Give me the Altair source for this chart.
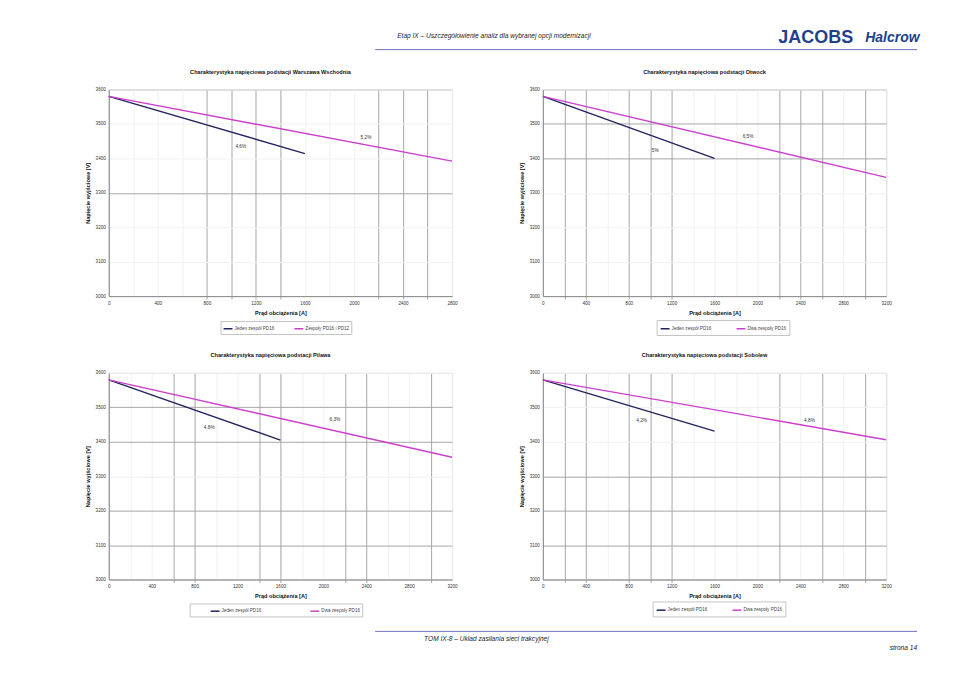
import json
import altair as alt
import pandas as pd

# ---------------- data ----------------
TITLES = [
    "Charakterystyka napięciowa podstacji Warszawa Wschodnia",
    "Charakterystyka napięciowa podstacji Otwock",
    "Charakterystyka napięciowa podstacji Pilawa",
    "Charakterystyka napięciowa podstacji Sobolew",
]
X_TITLE = "Prąd obciążenia [A]"
Y_TITLE = "Napięcie wyjściowe [V]"
X_MAX = [2800, 3200, 3200, 3200]
Y_DOMAIN = [3000, 3600]

SERIES_ONE = ["Jeden zespół PD16", "Jeden zespół PD16", "Jeden zespół PD16", "Jeden zespół PD16"]
SERIES_TWO = ["Zespoły PD16 i PD12", "Dwa zespoły PD16", "Dwa zespoły PD16", "Dwa zespoły PD16"]

START_CURRENT = [0, 0, 0, 0]
START_VOLTAGE = [3580, 3580, 3580, 3580]
ONE_END_CURRENT = [1600, 1600, 1600, 1600]
ONE_END_VOLTAGE = [3414, 3400, 3405, 3431]
TWO_END_CURRENT = [2800, 3200, 3200, 3200]
TWO_END_VOLTAGE = [3392, 3345, 3355, 3406]

ONE_LABEL = ["4,6%", "5%", "4,8%", "4,2%"]
ONE_LABEL_CURRENT = [1077, 1047, 937, 921]
ONE_LABEL_VOLTAGE = [3433, 3420, 3440, 3460]
TWO_LABEL = ["5,2%", "6,5%", "6,3%", "4,8%"]
TWO_LABEL_CURRENT = [2098, 1913, 2108, 2486]
TWO_LABEL_VOLTAGE = [3460, 3461, 3463, 3460]

# gridlines that print darker in the scanned page
GRID_X_MARKED = [
    [800, 1000, 1200, 1400, 2200, 2400, 2600],
    [200, 400, 800, 1000, 1200, 2200, 2400, 2600, 3000],
    [600, 800, 1400, 1600, 2200, 2400, 3000],
    [200, 400, 800, 1000, 1200, 2200, 2600, 3000],
]
GRID_Y_MARKED = [
    [3300],
    [3500, 3400],
    [3500, 3400, 3200, 3100],
    [3300, 3200, 3100],
]

HEADER_TEXT = "Etap IX – Uszczegółowienie analiz dla wybranej opcji modernizacji"
LOGO_ONE = "JACOBS"
LOGO_TWO = "Halcrow"
FOOTER_TEXT = "TOM IX-8 – Układ zasilania sieci trakcyjnej"
PAGE_TEXT = "strona 14"

# ---------------- styling ----------------
FONT = "Liberation Sans"
NAVY = "#23235f"
MAGENTA = "#cc3fcc"
DARK_GRID = "#a6a6a6"
FAINT_GRID = "#f0f0f0"
BORDER = "#a0a0a0"
LOGO_BLUE = "#1f3f8f"
RULE_BLUE = "#7070c0"

PANEL_W = 344
PANEL_H = 207

# legendX, legendY, padding, columnPadding, symbolOffset
LEGEND_POS = [(112, 232, 2, 17, 0), (114, 231, 3, 22, 0), (81, 231, 2, 30, 18), (110, 229, 3, 22, 0)]


def one_row():
    return alt.Data(values=[{}])


def deco_text(text, x, y, **kw):
    return alt.Chart(one_row()).mark_text(text=text, font=FONT, **kw).encode(
        x=alt.value(x), y=alt.value(y)
    )


def deco_rule(x, x2, y, color):
    return alt.Chart(one_row()).mark_rule(color=color, strokeWidth=1).encode(
        x=alt.value(x), x2=alt.value(x2), y=alt.value(y)
    )


def panel(i):
    lines = pd.DataFrame({
        "series": [SERIES_ONE[i], SERIES_ONE[i], SERIES_TWO[i], SERIES_TWO[i]],
        "current": [START_CURRENT[i], ONE_END_CURRENT[i], START_CURRENT[i], TWO_END_CURRENT[i]],
        "voltage": [START_VOLTAGE[i], ONE_END_VOLTAGE[i], START_VOLTAGE[i], TWO_END_VOLTAGE[i]],
    })
    labels = pd.DataFrame({
        "label": [ONE_LABEL[i], TWO_LABEL[i]],
        "current": [ONE_LABEL_CURRENT[i], TWO_LABEL_CURRENT[i]],
        "voltage": [ONE_LABEL_VOLTAGE[i], TWO_LABEL_VOLTAGE[i]],
    })
    x_test = "indexof(%s, datum.value) >= 0" % json.dumps(GRID_X_MARKED[i])
    y_test = "indexof(%s, datum.value) >= 0" % json.dumps(GRID_Y_MARKED[i])

    x_scale = alt.Scale(domain=[0, X_MAX[i]], nice=False)
    y_scale = alt.Scale(domain=Y_DOMAIN, nice=False, zero=False)

    x_axis = alt.Axis(
        values=list(range(0, X_MAX[i] + 1, 200)),
        format="d",
        labelExpr="datum.value % 400 === 0 ? datum.label : ''",
        labelOverlap=False,
        labelFlush=False,
        labelFont=FONT,
        labelFontSize=4.6,
        labelColor="#333333",
        labelPadding=1.5,
        tickSize=3,
        tickColor={"condition": {"test": x_test, "value": DARK_GRID}, "value": "transparent"},
        gridColor={"condition": {"test": x_test, "value": DARK_GRID}, "value": FAINT_GRID},
        domainColor="#8a8a8a",
        title=X_TITLE,
        titleFont=FONT,
        titleFontSize=5.6,
        titleFontWeight="bold",
        titleColor="#111111",
        titleY=16,
        titleBaseline="middle",
    )
    y_axis = alt.Axis(
        values=list(range(Y_DOMAIN[0], Y_DOMAIN[1] + 1, 100)),
        format="d",
        ticks=False,
        labelOverlap=False,
        labelFlush=False,
        labelFont=FONT,
        labelFontSize=4.6,
        labelColor="#333333",
        labelPadding=3.5,
        gridColor={"condition": {"test": y_test, "value": DARK_GRID}, "value": FAINT_GRID},
        domainColor="#8a8a8a",
        title=Y_TITLE,
        titleFont=FONT,
        titleFontSize=5.6,
        titleFontWeight="bold",
        titleColor="#111111",
        titleX=-21,
        titleY=PANEL_H / 2,
        titleBaseline="middle",
    )
    lx, ly, lpad, lcol, loff = LEGEND_POS[i]
    legend_kw = dict(
        orient="none",
        legendX=lx,
        legendY=ly,
        direction="horizontal",
        title=None,
        symbolType="stroke",
        symbolSize=80,
        symbolStrokeWidth=1.5,
        labelFont=FONT,
        labelFontSize=4.6,
        labelColor="#444444",
        labelOffset=1,
        padding=lpad,
        columnPadding=lcol,
        strokeColor="#c4c4c4",
        fillColor="white",
    )
    if loff:
        legend_kw["symbolOffset"] = loff
    legend = alt.Legend(**legend_kw)

    line_layer = alt.Chart(lines).mark_line(strokeWidth=1.4).encode(
        x=alt.X("current:Q", scale=x_scale, axis=x_axis),
        y=alt.Y("voltage:Q", scale=y_scale, axis=y_axis),
        color=alt.Color(
            "series:N",
            scale=alt.Scale(domain=[SERIES_ONE[i], SERIES_TWO[i]], range=[NAVY, MAGENTA]),
            legend=legend,
        ),
        detail="series:N",
    )
    text_layer = alt.Chart(labels).mark_text(font=FONT, fontSize=4.8, color="#333333").encode(
        x=alt.X("current:Q", scale=x_scale, axis=x_axis),
        y=alt.Y("voltage:Q", scale=y_scale, axis=y_axis),
        text="label:N",
    )
    title_layer = deco_text(TITLES[i], 162, -18, align="center", baseline="middle",
                            fontSize=5.6, fontWeight="bold", color="#111111")
    layers = [line_layer, text_layer, title_layer]
    if i == 0:
        # page decorations (header / footer), placed relative to the first panel
        layers += [
            alt.Chart(one_row()).mark_rect(fill="transparent", stroke="transparent").encode(
                x=alt.value(-100), x2=alt.value(844), y=alt.value(-80), y2=alt.value(583)
            ),
            deco_text(HEADER_TEXT, 289, -54, align="left", baseline="middle", fontSize=6.6,
                      fontStyle="italic", color="#222222"),
            deco_text(LOGO_ONE, 671, -52, align="left", baseline="middle", fontSize=18,
                      fontWeight="bold", color=LOGO_BLUE),
            deco_text(LOGO_TWO, 758, -52, align="left", baseline="middle", fontSize=14,
                      fontWeight="bold", fontStyle="italic", color=LOGO_BLUE),
            deco_rule(267, 810, -40, RULE_BLUE),
            deco_rule(267, 810, 543, RULE_BLUE),
            deco_text(FOOTER_TEXT, 316, 551, align="left", baseline="middle", fontSize=6.6,
                      fontStyle="italic", color="#222222"),
            deco_text(PAGE_TEXT, 810, 560, align="right", baseline="middle", fontSize=6.6,
                      fontStyle="italic", color="#222222"),
        ]
    return alt.layer(*layers).properties(width=PANEL_W, height=PANEL_H)


chart = (
    alt.concat(
        *[panel(i) for i in range(4)],
        columns=2,
        spacing={"row": 77, "column": 91},
        bounds="flush",
    )
    .resolve_scale(color="independent")
    .resolve_legend(color="independent")
    .properties(padding=0, background="white")
    .configure_view(stroke=BORDER, strokeWidth=1)
)

chart.save("out.html", embed_options={"renderer": "svg", "actions": False})
